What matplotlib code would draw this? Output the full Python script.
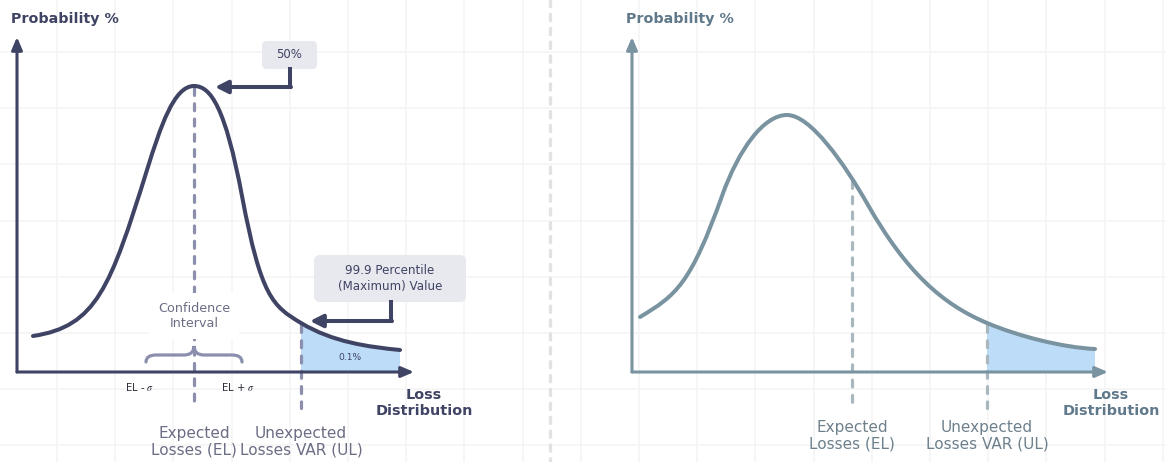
import numpy as np
import matplotlib
matplotlib.use("Agg")
import matplotlib.pyplot as plt
from matplotlib.path import Path
from matplotlib.patches import PathPatch, FancyBboxPatch

plt.rcParams['font.family'] = ['DejaVu Sans']
plt.rcParams['mathtext.fontset'] = 'stix'
plt.rcParams['lines.scale_dashes'] = False

# ---- data (in pixel units of the 1166x462 canvas) ----
# curves are given as cubic bezier chains: node, handle, handle, node, ...
# left panel: "classic" loss distribution
left_bx = [33, 96.4, 110.3, 147, 160.5, 173.8, 194, 210.75, 225.25, 242, 261.1, 272.6, 301, 333, 368, 400]
left_by = [336, 326.5, 287.6, 170, 126.8, 86, 86, 86, 107.2, 196, 297.2, 306, 323, 342.2, 346.8, 350]
left_el_x = 194
left_ul_x = 301

# right panel: skewed loss distribution
right_bx = [640, 676.4, 690.6, 722, 738.7, 763.6, 787, 810.6, 844.4, 868, 906.3, 942, 987, 1019.4, 1062.6, 1095]
right_by = [317, 295.2, 283.9, 196, 149.2, 115, 115, 115, 163.7, 205, 272, 304.1, 323, 336.6, 347.4, 349]
right_el_x = 852
right_ul_x = 987

tail_node = 12             # node where the 99.9 percentile tail starts
axis_y = 372
tail_label = "0.1%"
box_50 = "50%"
box_999 = "99.9 Percentile\n(Maximum) Value"

# colours
navy = '#3f4364'
navy_dash = '#8b8fad'
navy_text = '#6a6d84'
slate = '#7993a0'
slate_dash = '#a9b8bf'
slate_label = '#60798a'
slate_text = '#6d808c'
tail_fill = '#bddcf8'
box_grey = '#e8e9ee'
grid_col = '#f4f4f4'


def bezier_path(bx, by, start=0):
    verts = list(zip(bx[start:], by[start:]))
    codes = [Path.MOVETO] + [Path.CURVE4] * (len(verts) - 1)
    return verts, codes


fig = plt.figure(figsize=(11.66, 4.62), dpi=100)
ax = fig.add_axes([0, 0, 1, 1])
ax.set_xlim(0, 1166)
ax.set_ylim(462, 0)
ax.axis('off')

# faint background grid
for gx in np.arange(57, 1166, 58.2):
    ax.axvline(gx, color=grid_col, lw=1.1, zorder=0)
for gy in np.arange(52, 462, 56.2):
    ax.axhline(gy, color=grid_col, lw=1.1, zorder=0)

# dashed divider
ax.plot([550, 550], [0, 462], color='#e2e2e2', lw=2.4, dashes=(4.5, 5.5),
        dash_capstyle='round', zorder=1)


def arrow(x0, y0, x1, y1, color, lw, hl, hw):
    ax.annotate('', xy=(x1, y1), xytext=(x0, y0), zorder=6,
                arrowprops=dict(arrowstyle=f'-|>,head_length={hl},head_width={hw}',
                                lw=lw, color=color, shrinkA=0, shrinkB=0,
                                mutation_scale=10))


def panel(bx, by, el_x, ul_x, x0, x_end, loss_x, line_col, dash_col, label_col, lw):
    # axes
    arrow(x0, axis_y, x0, 37, line_col, 2.2, 0.75, 0.32)
    arrow(x0, axis_y, x_end, axis_y, line_col, 2.2, 0.75, 0.32)
    ax.text(x0 - 6, 19, 'Probability %', fontsize=10.3, fontweight='bold',
            color=label_col, va='center', ha='left')
    ax.text(loss_x, 403, 'Loss\nDistribution', fontsize=10.4, fontweight='bold',
            color=label_col, va='center', ha='center', linespacing=1.2)

    # tail fill
    v, c = bezier_path(bx, by, start=tail_node)
    v = v + [(bx[-1], axis_y), (ul_x, axis_y), (ul_x, by[tail_node])]
    c = c + [Path.LINETO, Path.LINETO, Path.CLOSEPOLY]
    ax.add_patch(PathPatch(Path(v, c), facecolor=tail_fill, edgecolor='none', zorder=2))

    # curve
    v, c = bezier_path(bx, by)
    curve = Path(v, c)
    ax.add_patch(PathPatch(curve, facecolor='none', edgecolor=line_col, lw=lw,
                           capstyle='round', zorder=5))

    # EL / UL dashed markers, starting where they meet the curve
    poly = curve.to_polygons(closed_only=False)[0]
    el_top = np.interp(el_x, poly[:, 0], poly[:, 1])
    ax.plot([el_x, el_x], [el_top + 2, 408], color=dash_col, lw=2.3, dashes=(5.0, 6.0),
            dash_capstyle='round', zorder=3)
    ax.plot([ul_x, ul_x], [by[tail_node] + 2, 408], color=dash_col, lw=2.3,
            dashes=(5.0, 6.0), dash_capstyle='round', zorder=3)


# left panel
panel(left_bx, left_by, left_el_x, left_ul_x, 17, 414, 424, navy, navy_dash, navy, 2.9)
ax.text(left_el_x, 442, 'Expected\nLosses (EL)', fontsize=11, color=navy_text,
        ha='center', va='center', linespacing=1.15)
ax.text(left_ul_x, 442, 'Unexpected\nLosses VAR (UL)', fontsize=11, color=navy_text,
        ha='center', va='center', linespacing=1.15)
ax.text(left_el_x, 316, 'Confidence\nInterval', fontsize=9.2, color=navy_text,
        ha='center', va='center', linespacing=1.2, zorder=4,
        bbox=dict(boxstyle='square,pad=0.7', fc='white', ec='none'))
ax.text(350, 358, tail_label, fontsize=6.6, color=navy, ha='center', va='center', zorder=4)
ax.text(140, 387, r'EL - $\sigma$', fontsize=7.2, color='#2b2d3a', ha='center', va='center')
ax.text(238, 387, r'EL + $\sigma$', fontsize=7.2, color='#2b2d3a', ha='center', va='center')

# confidence brace
bv = [(146, 362), (146, 355), (156, 355), (184, 355), (194, 355), (194, 346),
      (194, 355), (204, 355), (232, 355), (242, 355), (242, 362)]
bc = [Path.MOVETO, Path.CURVE3, Path.CURVE3, Path.LINETO, Path.CURVE3, Path.CURVE3,
      Path.CURVE3, Path.CURVE3, Path.LINETO, Path.CURVE3, Path.CURVE3]
ax.add_patch(PathPatch(Path(bv, bc), facecolor='none', edgecolor=navy_dash, lw=2.3,
                       capstyle='round', zorder=3))

# callout boxes
ax.add_patch(FancyBboxPatch((262, 41), 55, 28, boxstyle='round,pad=0,rounding_size=5',
                            fc=box_grey, ec='none', zorder=4))
ax.text(289.5, 55, box_50, fontsize=8.5, color=navy, ha='center', va='center', zorder=5)
ax.plot([290, 290], [69, 87], color=navy, lw=2.9, solid_capstyle='projecting', zorder=6)
arrow(291, 87, 215, 87, navy, 2.9, 0.75, 0.38)

ax.add_patch(FancyBboxPatch((314, 255), 152, 47, boxstyle='round,pad=0,rounding_size=6',
                            fc=box_grey, ec='none', zorder=4))
ax.text(390, 278.5, box_999, fontsize=8.6, color=navy, ha='center', va='center',
        linespacing=1.25, zorder=5)
ax.plot([391, 391], [302, 321], color=navy, lw=2.9, solid_capstyle='projecting', zorder=6)
arrow(392, 321, 310, 321, navy, 2.9, 0.75, 0.38)

# right panel
panel(right_bx, right_by, right_el_x, right_ul_x, 632, 1108, 1111,
      slate, slate_dash, slate_label, 2.9)
ax.text(right_el_x, 436, 'Expected\nLosses (EL)', fontsize=11, color=slate_text,
        ha='center', va='center', linespacing=1.15)
ax.text(right_ul_x, 436, 'Unexpected\nLosses VAR (UL)', fontsize=11, color=slate_text,
        ha='center', va='center', linespacing=1.15)

fig.savefig('out.png', dpi=100, facecolor='white')
